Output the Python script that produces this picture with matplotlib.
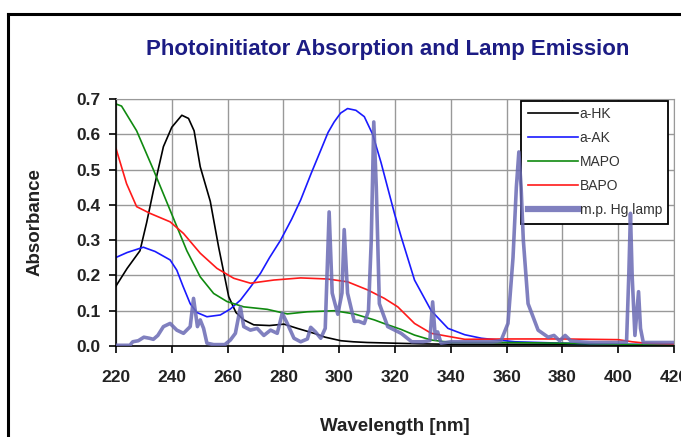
import matplotlib
matplotlib.use('Agg')
import matplotlib.pyplot as plt
from matplotlib.lines import Line2D

plt.rcParams['font.family'] = ['Liberation Sans', 'DejaVu Sans']

# a-HK (black)
hk_wl = [220, 224, 228.6, 231, 233.4, 237, 240, 243.6, 246, 248, 250.2, 253.8, 256.8,
         260.4, 263, 265.8, 269.4, 275, 280.2, 285, 291, 295, 300.6, 305, 310, 319.7,
         330, 340, 360, 380, 400, 420]
hk_abs = [0.17, 0.22, 0.27, 0.35, 0.44, 0.565, 0.62, 0.654, 0.645, 0.61, 0.508, 0.41, 0.28,
          0.14, 0.095, 0.074, 0.06, 0.058, 0.062, 0.05, 0.036, 0.025, 0.015, 0.012, 0.01, 0.008,
          0.006, 0.005, 0.005, 0.005, 0.003, 0.001]

# a-AK (blue)
ak_wl = [220, 224, 229.8, 234, 239.4, 241.8, 244, 246.6, 249, 252.6, 257.4, 261, 264.6, 268,
         271.8, 275, 279, 283, 286.2, 290, 293.4, 296, 298.2, 300.5, 303, 306, 309, 312, 315,
         319.8, 322.2, 327, 333, 339, 345, 351, 363, 380, 400, 420]
ak_abs = [0.251, 0.265, 0.28, 0.268, 0.244, 0.215, 0.17, 0.12, 0.095, 0.083, 0.088, 0.105, 0.13,
          0.165, 0.206, 0.25, 0.30, 0.36, 0.414, 0.49, 0.555, 0.605, 0.635, 0.66, 0.673, 0.668,
          0.65, 0.6, 0.52, 0.376, 0.31, 0.187, 0.10, 0.05, 0.032, 0.022, 0.012, 0.008, 0.005, 0.004]

# MAPO (green)
mapo_wl = [220, 222, 227.4, 233.4, 239.4, 245.4, 250.2, 255, 259.8, 265.8, 274.2, 281.4, 288.6,
           298.2, 305.4, 312.6, 316, 322.2, 327, 333, 340, 360, 380, 400, 420]
mapo_abs = [0.686, 0.68, 0.61, 0.50, 0.385, 0.27, 0.196, 0.149, 0.126, 0.111, 0.104, 0.091, 0.097,
            0.10, 0.091, 0.074, 0.064, 0.047, 0.031, 0.017, 0.01, 0.01, 0.008, 0.005, 0.002]

# BAPO (red)
bapo_wl = [220, 223.8, 227.4, 232.2, 239.4, 244.2, 250.2, 256.2, 262.2, 268.2, 276.6, 286.2,
           295.8, 303, 310.2, 316.2, 321, 327, 333, 345, 360, 380, 400, 405, 410, 420]
bapo_abs = [0.56, 0.46, 0.395, 0.376, 0.352, 0.319, 0.263, 0.22, 0.192, 0.178, 0.187, 0.193,
            0.19, 0.182, 0.159, 0.135, 0.111, 0.064, 0.036, 0.019, 0.02, 0.02, 0.018, 0.012,
            0.008, 0.006]

# medium pressure Hg lamp emission (scaled)
lamp_wl = [220, 225, 226, 228, 230, 232, 233.4, 235, 237, 239.4, 241.8, 244.2, 246.6, 247.8,
           249.2, 250.2, 251.4, 252.6, 255, 259, 261, 262.8, 264.6, 265.8, 268.2, 270.6, 273,
           275.4, 277.8, 279.6, 281.4, 283.8, 286.2, 288.6, 289.8, 291.5, 293.4, 295, 296.4,
           297.5, 299.5, 301, 301.8, 303, 305.4, 307, 309, 310.5, 311.5, 312.4, 313.3, 314.4,
           317.4, 322.2, 326, 330, 332.5, 333.5, 334.5, 335.3, 336.5, 340, 345, 350, 355, 358,
           360.5, 362.3, 363.5, 364.4, 365.2, 366, 367.7, 371.3, 374.9, 377, 379, 381, 383, 386,
           390, 395, 400, 403, 403.8, 404.4, 405, 406, 407.3, 408, 409, 411, 415, 420]
lamp_abs = [0.002, 0.002, 0.012, 0.015, 0.025, 0.022, 0.019, 0.03, 0.055, 0.064, 0.045, 0.036,
            0.055, 0.135, 0.055, 0.074, 0.05, 0.008, 0.004, 0.004, 0.017, 0.036, 0.11, 0.055,
            0.045, 0.05, 0.03, 0.045, 0.036, 0.093, 0.064, 0.022, 0.012, 0.02, 0.053, 0.04, 0.022,
            0.05, 0.38, 0.15, 0.09, 0.15, 0.33, 0.15, 0.07, 0.07, 0.064, 0.1, 0.3, 0.635, 0.45,
            0.12, 0.055, 0.036, 0.012, 0.012, 0.015, 0.125, 0.02, 0.04, 0.008, 0.012, 0.012,
            0.012, 0.012, 0.015, 0.064, 0.25, 0.45, 0.55, 0.45, 0.30, 0.12, 0.045, 0.025, 0.03,
            0.015, 0.03, 0.015, 0.012, 0.01, 0.01, 0.01, 0.012, 0.2, 0.376, 0.2, 0.03, 0.154,
            0.05, 0.01, 0.01, 0.01, 0.01]

x_ticks = [220, 240, 260, 280, 300, 320, 340, 360, 380, 400, 420]
y_ticks = [0.0, 0.1, 0.2, 0.3, 0.4, 0.5, 0.6, 0.7]

fig = plt.figure(figsize=(6.81, 4.37), dpi=100)
ax = fig.add_axes([0.1703, 0.2082, 0.8194, 0.5652])

ax.plot(hk_wl, hk_abs, color='black', lw=1.2, label='a-HK')
ax.plot(ak_wl, ak_abs, color='#1a1aff', lw=1.2, label='a-AK')
ax.plot(mapo_wl, mapo_abs, color='#108a10', lw=1.2, label='MAPO')
ax.plot(bapo_wl, bapo_abs, color='#ff1a1a', lw=1.2, label='BAPO')
ax.plot(lamp_wl, lamp_abs, color='#6a6ab4', lw=2.6, alpha=0.85, label='m.p. Hg lamp', zorder=6)

ax.set_xlim(220, 420)
ax.set_ylim(0, 0.7)
ax.set_xticks(x_ticks)
ax.set_yticks(y_ticks)
ax.set_yticklabels([f'{v:.1f}' for v in y_ticks])
ax.grid(True, color='#999999', lw=1.0)
ax.set_axisbelow(True)
for s in ['top', 'right']:
    ax.spines[s].set_color('#999999')
for s in ['left', 'bottom']:
    ax.spines[s].set_color('black')
    ax.spines[s].set_linewidth(1.2)
ax.tick_params(axis='x', direction='out', length=5, width=1.2, pad=12, labelsize=12.5)
ax.tick_params(axis='y', direction='out', length=5, width=1.2, pad=6, labelsize=12.5)
for lab in ax.get_xticklabels() + ax.get_yticklabels():
    lab.set_fontweight('bold')
    lab.set_color('#222222')

ax.set_xlabel('Wavelength [nm]', fontsize=13.5, fontweight='bold', labelpad=24, color='#222222')
ax.set_ylabel('Absorbance', fontsize=13.5, fontweight='bold', labelpad=24, color='#222222')

fig.text(0.570, 0.886, 'Photoinitiator Absorption and Lamp Emission', ha='center', va='center',
         fontsize=16, fontweight='bold', color='#1c1c84')

leg = ax.legend(loc='upper right', bbox_to_anchor=(0.99, 0.992), fontsize=10, frameon=True,
                fancybox=False, framealpha=1, edgecolor='black', handlelength=3.6,
                handletextpad=0.15, borderpad=0.45, labelspacing=0.72, borderaxespad=0)
leg.set_zorder(5)
leg.get_frame().set_linewidth(1.3)
leg.get_lines()[4].set_linewidth(4.5)
for t in leg.get_texts():
    t.set_color('#333333')

# outer frame (clipped at the right and bottom in the original)
fig.add_artist(Line2D([8 / 681, 8 / 681], [0, 1 - 14 / 437], color='black', lw=2.2,
                      transform=fig.transFigure))
fig.add_artist(Line2D([8 / 681, 1], [1 - 14 / 437, 1 - 14 / 437], color='black', lw=2.2,
                      transform=fig.transFigure))

fig.savefig('out.png', dpi=100)
